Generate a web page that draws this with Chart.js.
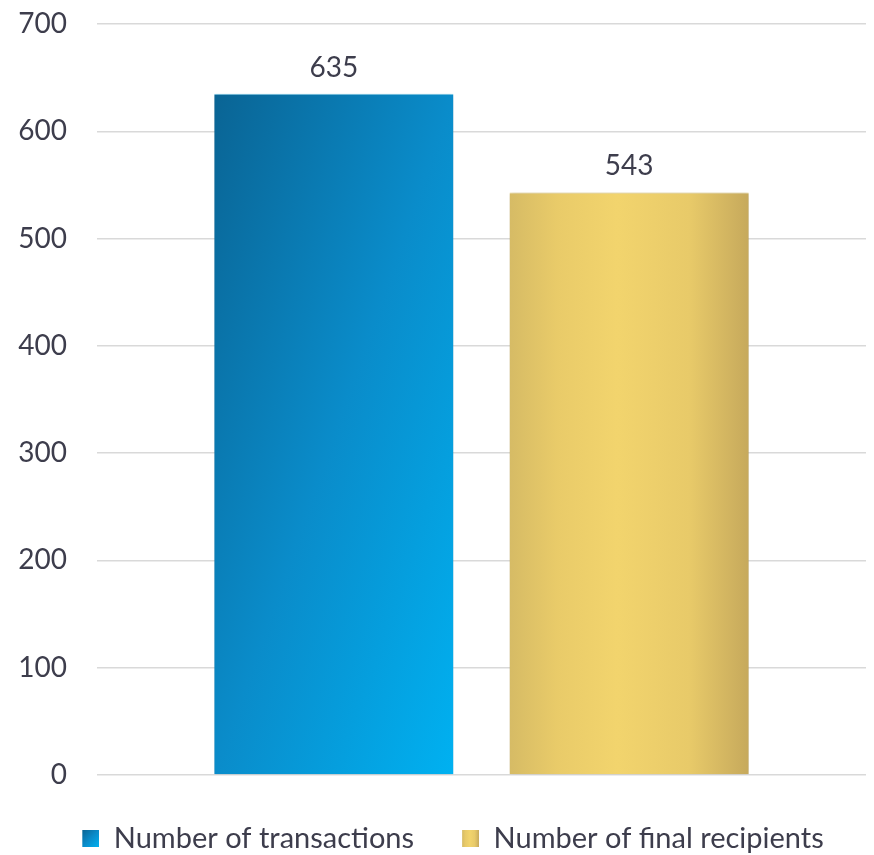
<!DOCTYPE html>
<html>
<head>
<meta charset="utf-8">
<script src="https://cdn.jsdelivr.net/npm/chart.js@4/dist/chart.umd.min.js"></script>
<style>
  html, body { margin: 0; padding: 0; background: #fff; }
  #wrap { width: 874px; height: 855px; }
</style>
</head>
<body>
<div id="wrap"><canvas id="fundChart"></canvas></div>
<script>
const categories = [''];
const seriesNames = ['Number of transactions', 'Number of final recipients'];
const transactions = [635];
const finalRecipients = [543];
const yTicks = [0, 100, 200, 300, 400, 500, 600, 700];

const CAT_PCT = 0.768;
const BAR_PCT = 0.81;
const SWATCH = 17;
const SWATCH_GAP = 40;
const textColor = '#3d3d4c';
const fontFamily = 'Lato, "Open Sans", sans-serif';

// pixel box of bar dsIndex in the single category, from the scales
function barBox(chart, dsIndex, value) {
  const xs = chart.scales.x, ys = chart.scales.y;
  const catW = xs.width * CAT_PCT;
  const slot = catW / 2;
  const center = xs.getPixelForValue(0);
  const left = center - catW / 2 + slot * dsIndex + slot * (1 - BAR_PCT) / 2;
  return { left, right: left + slot * BAR_PCT, top: ys.getPixelForValue(value), bottom: ys.getPixelForValue(0) };
}

// diagonal gradient scaled to the shape: equal colour along the anti-diagonal
function blueFill(ctx, b) {
  const w = b.right - b.left, h = b.bottom - b.top;
  const s = 2 * w * h / (w * w + h * h);
  const g = ctx.createLinearGradient(b.left, b.top, b.left + s * h, b.top + s * w);
  g.addColorStop(0, '#0a6494');
  g.addColorStop(0.5, '#0a8cca');
  g.addColorStop(1, '#00b1f1');
  return g;
}

function goldFill(ctx, b) {
  const g = ctx.createLinearGradient(b.left, 0, b.right, 0);
  g.addColorStop(0, '#d6bb65');
  g.addColorStop(0.2, '#e9cb69');
  g.addColorStop(0.45, '#f2d46d');
  g.addColorStop(0.75, '#e8ca69');
  g.addColorStop(1, '#c6a95c');
  return g;
}

function scriptedFill(fillFn, fallback, dsIndex) {
  return (context) => {
    const chart = context.chart;
    if (!chart.chartArea || !chart.scales.x) return fallback;
    const v = chart.data.datasets[dsIndex].data[context.dataIndex];
    return fillFn(chart.ctx, barBox(chart, dsIndex, v));
  };
}

// legend marker: gradient square on the right, blank lead-in on the left
function legendSwatch(fillFn) {
  const c = document.createElement('canvas');
  c.width = SWATCH + SWATCH_GAP; c.height = SWATCH;
  const x = c.getContext('2d');
  const b = { left: SWATCH_GAP, right: SWATCH_GAP + SWATCH, top: 0, bottom: SWATCH };
  x.fillStyle = fillFn(x, b);
  x.fillRect(b.left, 0, SWATCH, SWATCH);
  return c;
}
const swatches = [legendSwatch(blueFill), legendSwatch(goldFill)];

const barShadow = {
  id: 'barShadow',
  beforeDatasetsDraw(chart) {
    const ctx = chart.ctx;
    ctx.save();
    ctx.shadowColor = 'rgba(0,0,0,0.28)';
    ctx.shadowBlur = 5;
    ctx.shadowOffsetX = 0;
    ctx.shadowOffsetY = 1;
  },
  afterDatasetsDraw(chart) {
    chart.ctx.restore();
  }
};

const valueLabels = {
  id: 'valueLabels',
  afterDatasetsDraw(chart) {
    const ctx = chart.ctx;
    ctx.save();
    ctx.font = '28px ' + fontFamily;
    ctx.fillStyle = textColor;
    ctx.textAlign = 'center';
    ctx.textBaseline = 'middle';
    chart.data.datasets.forEach((ds, i) => {
      chart.getDatasetMeta(i).data.forEach((bar, j) => {
        ctx.fillText(String(ds.data[j]), bar.x, bar.y - 26);
      });
    });
    ctx.restore();
  }
};

new Chart(document.getElementById('fundChart'), {
  type: 'bar',
  data: {
    labels: categories,
    datasets: [
      {
        label: seriesNames[0],
        data: transactions,
        backgroundColor: scriptedFill(blueFill, '#0a8ac6', 0),
        borderColor: '#7fd3f3',
        borderWidth: { top: 1, left: 0, right: 0, bottom: 0 },
        borderSkipped: false
      },
      {
        label: seriesNames[1],
        data: finalRecipients,
        backgroundColor: scriptedFill(goldFill, '#ecce6a', 1),
        borderColor: '#f8e39a',
        borderWidth: { top: 1, left: 0, right: 0, bottom: 0 },
        borderSkipped: false
      }
    ]
  },
  options: {
    responsive: true,
    maintainAspectRatio: false,
    animation: false,
    devicePixelRatio: 1,
    categoryPercentage: CAT_PCT,
    barPercentage: BAR_PCT,
    layout: { padding: { top: 24, right: 8, bottom: -8, left: 0 } },
    scales: {
      x: {
        grid: { display: false },
        border: { display: false },
        ticks: { display: false },
        afterFit: (s) => { s.height = 41; }
      },
      y: {
        min: 0,
        max: 700,
        afterBuildTicks: (s) => { s.ticks = yTicks.map(v => ({ value: v })); },
        afterFit: (s) => { s.width = 97; s.paddingTop = 0; s.paddingBottom = 0; },
        grid: { color: '#d9d9d9', lineWidth: 1.5, drawTicks: false },
        border: { display: false },
        ticks: {
          padding: 30,
          color: textColor,
          font: { family: fontFamily, size: 28 }
        }
      }
    },
    plugins: {
      legend: {
        position: 'bottom',
        labels: {
          color: textColor,
          font: { family: fontFamily, size: 29 },
          usePointStyle: true,
          pointStyleWidth: SWATCH + SWATCH_GAP,
          boxHeight: SWATCH,
          padding: 8,
          generateLabels: (chart) => chart.data.datasets.map((ds, i) => ({
            text: ds.label,
            pointStyle: swatches[i],
            fillStyle: 'transparent',
            strokeStyle: 'transparent',
            lineWidth: 0,
            datasetIndex: i,
            fontColor: textColor
          }))
        }
      },
      tooltip: { enabled: false }
    }
  },
  plugins: [barShadow, valueLabels]
});
</script>
</body>
</html>
